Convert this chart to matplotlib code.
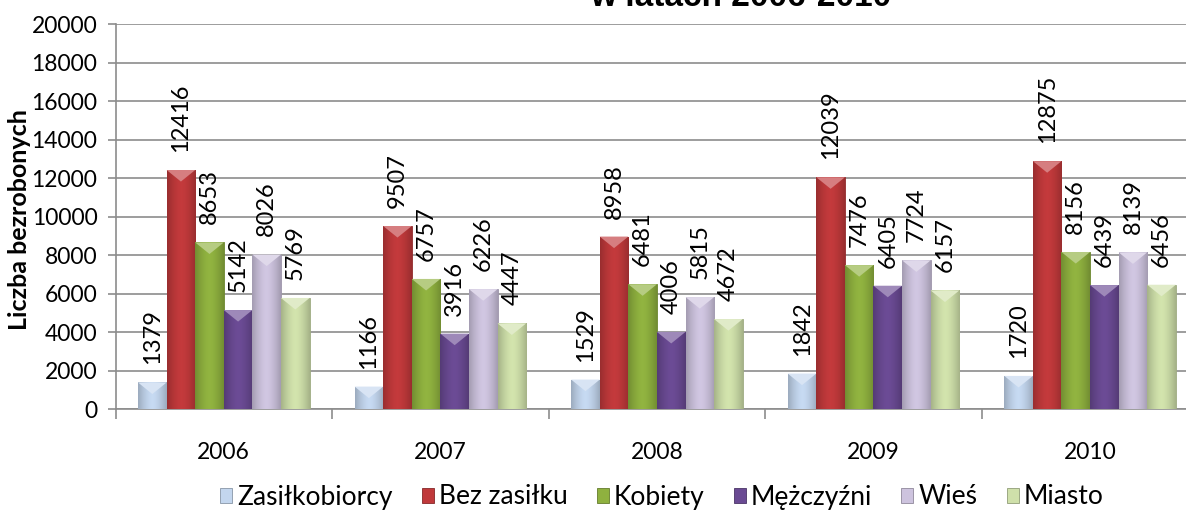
import matplotlib.pyplot as plt
import numpy as np
from matplotlib.colors import to_rgb
from matplotlib.patches import Patch, Polygon

# dane
lata = ['2006', '2007', '2008', '2009', '2010']
serie = ['Zasiłkobiorcy', 'Bez zasiłku', 'Kobiety', 'Mężczyźni', 'Wieś', 'Miasto']
zasilkobiorcy = [1379, 1166, 1529, 1842, 1720]
bez_zasilku = [12416, 9507, 8958, 12039, 12875]
kobiety = [8653, 6757, 6481, 7476, 8156]
mezczyzni = [5142, 3916, 4006, 6405, 6439]
wies = [8026, 6226, 5815, 7724, 8139]
miasto = [5769, 4447, 4672, 6157, 6456]
wartosci = [zasilkobiorcy, bez_zasilku, kobiety, mezczyzni, wies, miasto]
kolory = ['#c3d6ee', '#c0393b', '#8fb13f', '#6a4a93', '#cdc3de', '#cfe0aa']

plt.rcParams['font.family'] = ['Lato', 'DejaVu Sans']

fig = plt.figure(figsize=(11.86, 5.13), dpi=100)
ax = fig.add_axes([0.0974, 0.2027, 0.913, 0.7505])

x = np.arange(len(lata))
w = 0.132


def przyciemnij(c, f):
    r = np.array(to_rgb(c)) * f
    return tuple(np.clip(r, 0, 1))


def rozjasnij(c, f):
    r = np.array(to_rgb(c))
    return tuple(r + (1 - r) * f)


# profil gradientu w poziomie: ciemne brzegi, jasny srodek
prof = np.linspace(-1, 1, 40)
jasnosc = 0.80 + 0.22 * (1 - np.abs(prof) ** 1.6)

for i, (nazwa, vals, kol) in enumerate(zip(serie, wartosci, kolory)):
    poz = x + (i - 2.5) * w
    bars = ax.bar(poz, vals, width=w, color=kol, edgecolor=przyciemnij(kol, 0.75),
                  linewidth=0.6, zorder=3, label=nazwa)
    base = np.array(to_rgb(kol))
    grad = np.clip(base[None, :] * jasnosc[:, None], 0, 1)[None, :, :]
    for b, v in zip(bars, vals):
        x0 = b.get_x()
        x1 = x0 + b.get_width()
        im = ax.imshow(grad, extent=[x0, x1, 0, v], aspect='auto', zorder=3.1,
                       interpolation='bicubic')
        im.set_clip_path(b)
        h = 600
        tri = Polygon([[x0, v], [x1, v], [(x0 + x1) / 2, v - h]], closed=True,
                      facecolor=rozjasnij(kol, 0.35), edgecolor='none', zorder=3.2)
        ax.add_patch(tri)
        ax.annotate(str(v), (b.get_x() + b.get_width() / 2, v), xytext=(0, 13),
                    textcoords='offset points', ha='center', va='bottom',
                    rotation=90, fontsize=17, zorder=4)

ax.set_xlim(-0.5, 4.5)
ax.set_ylim(0, 20000)
ax.set_yticks(np.arange(0, 20001, 2000))
ax.grid(axis='y', color='#8c8c8c', linewidth=1.2, zorder=0)
ax.set_axisbelow(True)

ax.set_xticks(np.arange(-0.5, 5, 1))
ax.set_xticklabels([])
ax.set_xticks(x, minor=True)
ax.set_xticklabels(lata, minor=True)
ax.tick_params(axis='x', which='major', length=7, width=1.2, color='#8c8c8c')
ax.tick_params(axis='x', which='minor', length=0, pad=24, labelsize=16.5)
ax.tick_params(axis='y', length=6, width=1.2, color='#8c8c8c', pad=7, labelsize=16.5)

for s in ['top', 'right']:
    ax.spines[s].set_visible(False)
for s in ['left', 'bottom']:
    ax.spines[s].set_color('#8c8c8c')
    ax.spines[s].set_linewidth(1.2)

fig.text(20 / 1186, 1 - 220 / 513, 'Liczba bezrobonych', rotation=90, ha='center',
         va='center', fontsize=18, fontweight='bold')

# tytul jest w oryginale uciety u gory
fig.text(741 / 1186, 1 - 6 / 513, 'w latach 2006-2010', ha='center', va='baseline',
         fontsize=24, fontweight='bold', family='Liberation Sans')

uchwyty = [Patch(facecolor=k, edgecolor=przyciemnij(k, 0.7), linewidth=0.6) for k in kolory]
fig.legend(uchwyty, serie, loc='center', bbox_to_anchor=(662 / 1186, 1 - 497 / 513),
           ncol=6, frameon=False, fontsize=19, handlelength=0.45, handleheight=0.5,
           handletextpad=0.2, columnspacing=1.1, borderaxespad=0)

fig.savefig('out.png', dpi=100)
